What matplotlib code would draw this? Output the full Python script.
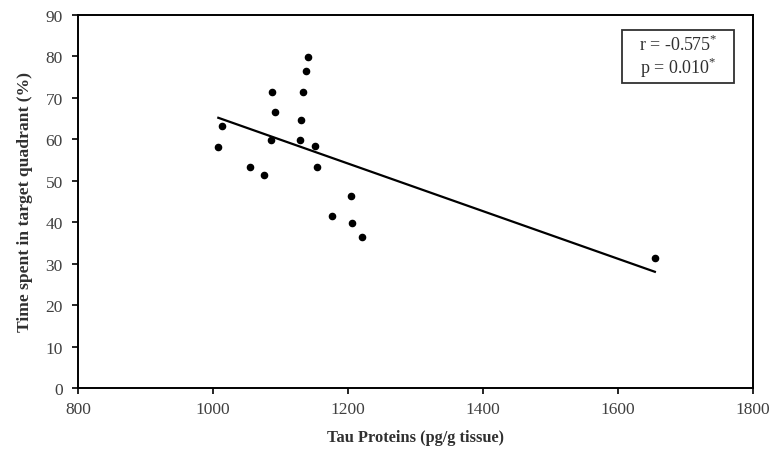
import numpy as np
import matplotlib
matplotlib.use("Agg")
import matplotlib.pyplot as plt
from matplotlib.patches import Rectangle

plt.rcParams['font.family'] = ['Liberation Serif', 'DejaVu Serif']
plt.rcParams['mathtext.fontset'] = 'custom'
plt.rcParams['mathtext.rm'] = 'Liberation Serif'

# values
tau = [1141, 1138, 1088, 1134, 1092, 1130, 1013, 1086, 1129, 1151,
       1008, 1055, 1154, 1076, 1204, 1176, 1206, 1221, 1655]
time_pct = [79.8, 76.4, 71.5, 71.5, 66.5, 64.7, 63.1, 59.8, 59.8, 58.3,
            58.2, 53.3, 53.3, 51.5, 46.4, 41.4, 39.9, 36.4, 31.4]

x_ticks = [800, 1000, 1200, 1400, 1600, 1800]
y_ticks = [0, 10, 20, 30, 40, 50, 60, 70, 80, 90]

fig = plt.figure(figsize=(7.72, 4.52), dpi=100)
ax = fig.add_axes([0.101, 0.139, 0.874, 0.826])

x = np.array(tau)
y = np.array(time_pct)
ax.scatter(x, y, s=20, color='black', zorder=3)

# least-squares trend line over the data range
slope, icpt = np.polyfit(x, y, 1)
xs = np.array([x.min(), x.max()])
ax.plot(xs, slope * xs + icpt, color='black', lw=1.6)

ax.set_xlim(800, 1800)
ax.set_ylim(0, 90)
ax.set_xticks(x_ticks)
ax.set_yticks(y_ticks)
ax.tick_params(direction='out', length=4, width=1.2, labelsize=12.5,
               labelcolor='#404040')
ax.tick_params(axis='y', pad=7)
ax.tick_params(axis='x', pad=5)
for sp in ax.spines.values():
    sp.set_linewidth(1.4)

ax.set_xlabel('Tau Proteins (pg/g tissue)', fontsize=11.8, fontweight='bold',
              color='#303030', labelpad=9)
ax.set_ylabel('Time spent in target quadrant (%)', fontsize=12.6,
              fontweight='bold', color='#303030', labelpad=9)

# stats box
ax.add_patch(Rectangle((0.807, 0.818), 0.166, 0.142, transform=ax.transAxes,
                       fc='white', ec='#303030', lw=1.3, zorder=4))
ax.text(0.890, 0.889, 'r = -0.575$^{*}$\np = 0.010$^{*}$', transform=ax.transAxes,
        ha='center', va='center', fontsize=13, color='#303030', linespacing=1.05,
        zorder=5)

fig.savefig('out.png', dpi=100)
